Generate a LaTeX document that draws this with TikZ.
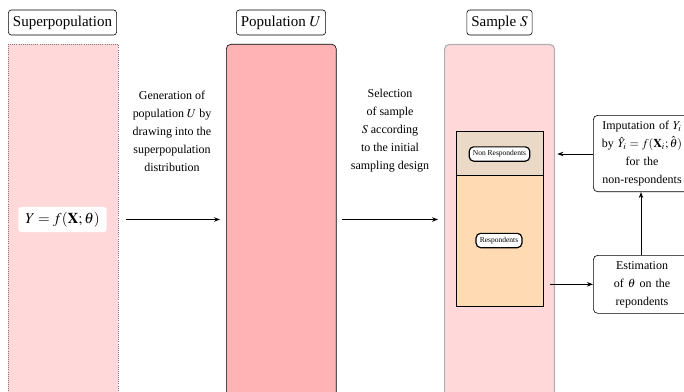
\documentclass[tikz,border=0pt]{standalone}
\usepackage{amsmath}
\usepackage{mathptmx}
\usepackage[no-math]{fontspec}
\setmainfont{Liberation Serif}
\usetikzlibrary{arrows.meta}
\usetikzlibrary{calc}

\definecolor{superpink}{RGB}{255,216,218}
\definecolor{poppink}{RGB}{255,179,181}
\definecolor{nonrespcol}{RGB}{234,217,199}
\definecolor{respcol}{RGB}{255,218,178}
\definecolor{dotcol}{RGB}{140,110,122}

\tikzset{
    titlebox/.style={draw, rounded corners=2pt, fill=white, inner sep=3pt, minimum height=16.7pt},
    column/.style={anchor=north west, minimum width=73.3pt, minimum height=240pt, inner sep=0pt},
    tinybox/.style={draw, thick, rounded corners=3pt, fill=white, font=\tiny, inner sep=2.5pt},
    stepnote/.style={font=\footnotesize, align=center, execute at begin node=\setlength{\baselineskip}{12pt}},
    actionbox/.style={draw, rounded corners=3pt, fill=white, anchor=north west, text width=59pt, minimum width=65pt, inner sep=3pt, font=\footnotesize, align=center, execute at begin node=\setlength{\baselineskip}{12pt}},
    flow/.style={-{Stealth[length=4pt,width=3pt]}, semithick}
}

\begin{document}
\begin{tikzpicture}[x=0.6667pt, y=-0.6667pt]
        \useasboundingbox (0,0) rectangle (684,392);

        % the three columns
        \node[column, fill=superpink, draw=dotcol, densely dotted] (supcol) at (8,44) {};
        \node[column, fill=poppink, draw=black, rounded corners=3pt] (popcol) at (226,44) {};
        \node[column, fill=superpink, draw=black!30, thick, rounded corners=3pt] (samcol) at (444,44) {};

        % titles
        \node[titlebox] (suptitle) at (62.5,22.5) {Superpopulation};
        \node[titlebox] (poptitle) at (281,22.5) {Population $U$};
        \node[titlebox] (samtitle) at (499.5,22.5) {Sample $S$};

        % model
        \node[fill=white, rounded corners=2pt, minimum width=59pt, minimum height=16.7pt] (model) at (62.5,219.5)
            {$Y = f(\mathbf{X};\boldsymbol{\theta})$};

        % respondents / non respondents
        \node[draw, fill=nonrespcol, anchor=north west, minimum width=58pt, minimum height=29.3pt, inner sep=0pt] (nrpart) at (456,131) {};
        \node[draw, fill=respcol, anchor=north west, minimum width=58pt, minimum height=87.3pt, inner sep=0pt] (rpart) at (456,175) {};
        \node[tinybox] (nonresp) at (499.5,154) {Non Respondents};
        \node[tinybox] (resp) at (499,240.5) {Respondents};

        % side boxes
        \node[actionbox, minimum height=51pt] (impbox) at (593,115)
            {Imputation of $Y_i$\\ by $\hat{Y}_i = f(\mathbf{X}_i;\hat{\boldsymbol{\theta}})$\\ for the\\ non-respondents};
        \node[actionbox, minimum height=38.7pt] (estbox) at (593,255)
            {Estimation\\ of $\boldsymbol{\theta}$ on the\\ repondents};

        % notes
        \node[stepnote] (gennote) at (172,131)
            {Generation of\\ population $U$ by\\ drawing into the\\ superpopulation\\ distribution};
        \node[stepnote] (selnote) at (390,131)
            {Selection\\ of sample\\ $S$ according\\ to the initial\\ sampling design};

        % arrows
        \draw[flow, shorten <=5pt, shorten >=4pt] (supcol.east |- model) -- (popcol.west |- model);
        \draw[flow, shorten <=3.5pt, shorten >=4pt] (popcol.east |- model) -- (samcol.west |- model);
        \draw[flow, shorten >=1.5pt] (impbox.west |- nonresp) -- (samcol.east |- nonresp);
        \draw[flow, shorten <=-3.5pt] (samcol.east |- estbox.west) -- (estbox.west);
        \draw[flow] (estbox.north -| 641,0) -- (impbox.south -| 641,0);
    \end{tikzpicture}
\end{document}
